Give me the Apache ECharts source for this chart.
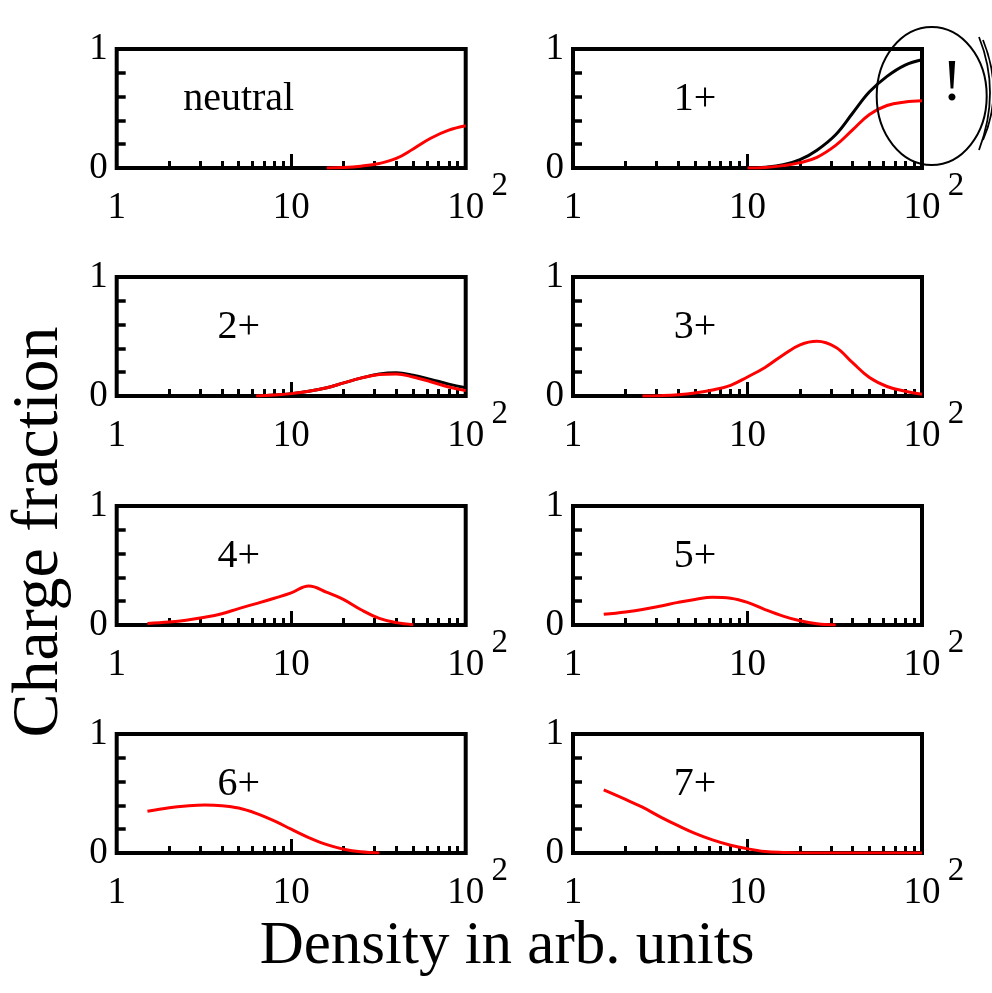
<!DOCTYPE html>
<html>
<head>
<meta charset="utf-8">
<script src="https://cdn.jsdelivr.net/npm/echarts@6/dist/echarts.min.js"></script>
<style>html,body{margin:0;padding:0;background:#fff}#c{width:992px;height:993px}</style>
</head>
<body>
<div id="c"></div>
<script>
// ---- data ----
const panelNames = ['neutral', '1+', '2+', '3+', '4+', '5+', '6+', '7+'];
const xTickLabels = [1, 10, 100];
const yTickLabels = [0, 1];
const xMinorTicks = [2, 3, 4, 5, 6, 7, 8, 9, 20, 30, 40, 50, 60, 70, 80, 90];
const xMajorTicks = [10];

// density sample points (roughly even in log space)
const densityX = [1.5, 2, 2.5, 3.2, 4, 5, 6.3, 8, 10, 12.6, 16, 20, 25, 32, 40, 50, 63, 80, 100];

const neutralRed = [null, null, null, null, null, null, null, null, null, null, 0, 0.004, 0.015, 0.038, 0.08, 0.16, 0.25, 0.318, 0.355];
const plus1Black = [null, null, null, null, null, null, null, null, 0, 0.007, 0.027, 0.07, 0.15, 0.28, 0.46, 0.64, 0.77, 0.865, 0.91];
const plus1Red   = [null, null, null, null, null, null, null, null, 0, 0.005, 0.02, 0.045, 0.09, 0.19, 0.32, 0.45, 0.525, 0.555, 0.565];
const plus2Black = [null, null, null, null, null, null, 0, 0.008, 0.02, 0.04, 0.07, 0.11, 0.15, 0.185, 0.195, 0.175, 0.14, 0.1, 0.07];
const plus2Red   = [null, null, null, null, null, null, 0, 0.008, 0.02, 0.04, 0.07, 0.11, 0.15, 0.18, 0.185, 0.16, 0.12, 0.075, 0.045];
const plus3Red   = [null, null, 0, 0.003, 0.01, 0.025, 0.05, 0.09, 0.16, 0.24, 0.345, 0.43, 0.46, 0.41, 0.28, 0.155, 0.08, 0.04, 0.015];
const plus4Red   = [0.013, 0.025, 0.04, 0.065, 0.095, 0.138, 0.18, 0.225, 0.27, 0.328, 0.275, 0.213, 0.13, 0.055, 0.02, 0.003, null, null, null];
const plus5Red   = [0.09, 0.11, 0.13, 0.16, 0.19, 0.215, 0.233, 0.225, 0.19, 0.13, 0.075, 0.035, 0.01, 0, null, null, null, null, null];
const plus6Red   = [0.35, 0.38, 0.395, 0.403, 0.398, 0.378, 0.333, 0.27, 0.2, 0.13, 0.07, 0.032, 0.01, 0, null, null, null, null, null];
const plus7Red   = [0.53, 0.45, 0.385, 0.3, 0.23, 0.165, 0.11, 0.065, 0.035, 0.013, 0.004, 0, 0, 0, 0, 0, 0, 0, 0];

// ---- layout ----
const FONT = "'Liberation Serif', 'Times New Roman', serif";
const colLeft = [116.7, 573];
const rowTop = [49, 277, 506, 734];
const gW = 349, gH = 119;
const BLACK = '#000', RED = '#ff0000';

const curves = [
  [[neutralRed, RED]],
  [[plus1Black, BLACK], [plus1Red, RED]],
  [[plus2Black, BLACK], [plus2Red, RED]],
  [[plus3Red, RED]],
  [[plus4Red, RED]],
  [[plus5Red, RED]],
  [[plus6Red, RED]],
  [[plus7Red, RED]]
];

const grid = [], xAxis = [], yAxis = [], series = [], graphic = [];
const zip = ys => densityX.map((x, i) => [x, ys[i]]).filter(p => p[1] !== null);

panelNames.forEach((name, i) => {
  const col = i % 2, row = Math.floor(i / 2);
  const left = colLeft[col], top = rowTop[row];
  grid.push({ left, top, width: gW, height: gH, show: true, borderWidth: 4, borderColor: BLACK, backgroundColor: 'transparent', containLabel: false });
  xAxis.push({
    type: 'log', logBase: 10, min: 1, max: 100, gridIndex: i, position: 'bottom',
    axisLine: { show: false },
    splitLine: { show: false },
    axisTick: { show: true, inside: true, length: 7, customValues: xMinorTicks, lineStyle: { color: BLACK, width: 3 } },
    axisLabel: {
      show: true, customValues: xTickLabels, margin: 22, color: BLACK, fontFamily: FONT, fontSize: 37,
      formatter: v => String(v === 100 ? 10 : v)
    }
  });
  xAxis.push({
    type: 'log', logBase: 10, min: 1, max: 100, gridIndex: i, position: 'bottom',
    axisLine: { show: false }, splitLine: { show: false }, axisLabel: { show: false },
    axisTick: { show: true, inside: true, length: 14, customValues: xMajorTicks, lineStyle: { color: BLACK, width: 3 } }
  });
  yAxis.push({
    type: 'value', min: 0, max: 1, interval: 0.2, gridIndex: i,
    axisLine: { show: false }, splitLine: { show: false },
    axisTick: { show: true, inside: true, length: 9, lineStyle: { color: BLACK, width: 3.5 } },
    axisLabel: { show: true, customValues: yTickLabels, margin: 9, fontSize: 37, fontFamily: FONT, color: BLACK }
  });
  curves[i].forEach(([ys, color]) => {
    series.push({
      type: 'line', xAxisIndex: i * 2, yAxisIndex: i, data: zip(ys),
      smooth: 0.4, showSymbol: false, symbol: 'none',
      lineStyle: { color, width: 3 }, clip: true, silent: true, animation: false
    });
  });
  graphic.push({
    type: 'text', x: left + 122, y: top + 50,
    style: { text: name, fontSize: 40, fontFamily: FONT, fill: BLACK, align: 'center', verticalAlign: 'middle' }
  });
  // exponent of the "10^2" tick label
  graphic.push({
    type: 'text', x: left + gW + 34, y: top + gH + 18,
    style: { text: '2', fontSize: 33, fontFamily: FONT, fill: BLACK, align: 'center', verticalAlign: 'middle' }
  });
});

graphic.push({
  type: 'text', x: 507, y: 947,
  style: { text: 'Density in arb. units', fontSize: 61, fontFamily: FONT, fill: BLACK, align: 'center', verticalAlign: 'middle' }
});
graphic.push({
  type: 'text', x: 40, y: 532, rotation: Math.PI / 2,
  style: { text: 'Charge fraction', fontSize: 66, fontFamily: FONT, fill: BLACK, align: 'center', verticalAlign: 'middle' }
});
graphic.push({
  type: 'ellipse', shape: { cx: 931.7, cy: 96, rx: 55, ry: 69 }, z: 10,
  style: { fill: 'none', stroke: BLACK, lineWidth: 2 }
});
graphic.push({
  type: 'text', x: 952, y: 84, z: 10,
  style: { text: '!', fontSize: 60, fontFamily: FONT, fill: BLACK, align: 'center', verticalAlign: 'middle' }
});
graphic.push({
  type: 'bezierCurve', z: 10,
  shape: { x1: 979, y1: 37, cpx1: 1001, cpy1: 92, x2: 979, y2: 150 },
  style: { fill: 'none', stroke: BLACK, lineWidth: 1.8 }
});
graphic.push({
  type: 'bezierCurve', z: 10,
  shape: { x1: 983, y1: 40, cpx1: 1004, cpy1: 92, x2: 983, y2: 140 },
  style: { fill: 'none', stroke: BLACK, lineWidth: 1.8 }
});

const chart = echarts.init(document.getElementById('c'), null, { renderer: 'canvas' });
chart.setOption({ animation: false, backgroundColor: '#fff', grid, xAxis, yAxis, series, graphic });
</script>
</body>
</html>
